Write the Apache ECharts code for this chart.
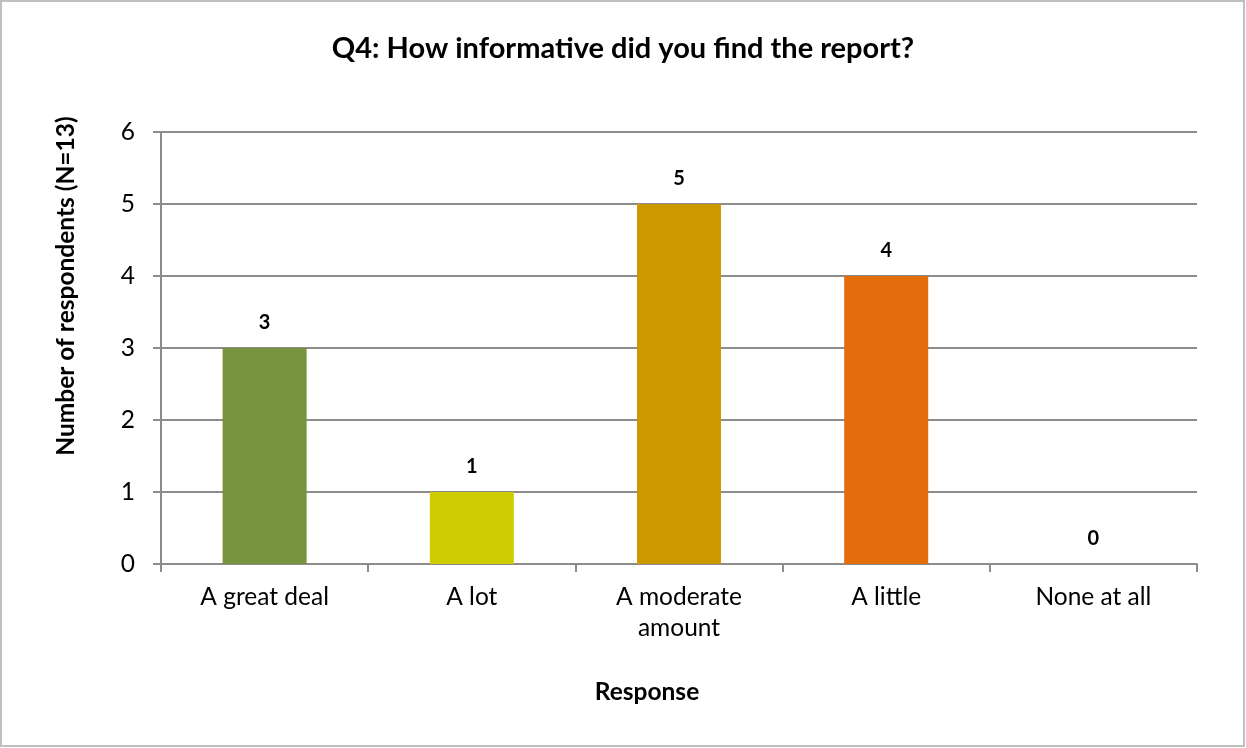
<!DOCTYPE html>
<html>
<head>
<meta charset="utf-8">
<script src="https://cdn.jsdelivr.net/npm/echarts@6/dist/echarts.min.js"></script>
<style>
  html, body { margin: 0; padding: 0; background: #ffffff; }
  #chart { width: 1246px; height: 748px; }
</style>
</head>
<body>
<div id="chart"></div>
<script>
// Survey responses for Q4
const categories = ['A great deal', 'A lot', 'A moderate\namount', 'A little', 'None at all'];
const counts = [3, 1, 5, 4, 0];
const barColors = ['#77933c', '#cccc00', '#cc9900', '#e46c0a', '#4f81bd'];
const yTicks = [0, 1, 2, 3, 4, 5, 6];

const titleText = 'Q4: How informative did you find the report?';
const xAxisTitle = 'Response';
const yAxisTitle = 'Number of respondents (N=13)';

const FONT = 'Lato, "Open Sans", sans-serif';
const chart = echarts.init(document.getElementById('chart'), null, { renderer: 'canvas' });

chart.setOption({
  backgroundColor: '#ffffff',
  animation: false,
  title: {
    text: titleText,
    left: 'center',
    top: 29,
    textStyle: { fontFamily: FONT, fontSize: 29, fontWeight: 'bold', color: '#000000' }
  },
  grid: { left: 161, right: 49, top: 132, bottom: 184, containLabel: false },
  xAxis: {
    type: 'category',
    data: categories,
    axisLine: { show: true, lineStyle: { color: '#8c8c8c', width: 2 } },
    axisTick: { show: true, length: 8, lineStyle: { color: '#8c8c8c', width: 2 } },
    axisLabel: { fontFamily: FONT, fontSize: 24.5, color: '#000000', margin: 18, lineHeight: 31 },
    splitLine: { show: false }
  },
  yAxis: {
    type: 'value',
    min: yTicks[0],
    max: yTicks[yTicks.length - 1],
    interval: 1,
    axisLine: { show: true, lineStyle: { color: '#8c8c8c', width: 2 } },
    axisTick: { show: true, length: 8, lineStyle: { color: '#8c8c8c', width: 2 } },
    axisLabel: { fontFamily: FONT, fontSize: 24.5, color: '#000000', margin: 26 },
    splitLine: { show: true, lineStyle: { color: '#8c8c8c', width: 2 } }
  },
  graphic: [
    {
      // outer chart border
      type: 'rect',
      shape: { x: 1, y: 1, width: 1243, height: 745 },
      style: { fill: 'none', stroke: '#bfbfbf', lineWidth: 2 },
      silent: true
    },
    {
      type: 'text',
      x: 66,
      y: 286,
      rotation: Math.PI / 2,
      style: {
        text: yAxisTitle,
        font: 'bold 24.5px ' + FONT,
        fill: '#000000',
        textAlign: 'center',
        textVerticalAlign: 'middle'
      }
    },
    {
      type: 'text',
      x: 647,
      y: 692,
      style: {
        text: xAxisTitle,
        font: 'bold 24.5px ' + FONT,
        fill: '#000000',
        textAlign: 'center',
        textVerticalAlign: 'middle'
      }
    }
  ],
  series: [{
    type: 'bar',
    barWidth: 84,
    data: counts.map((v, i) => ({ value: v, itemStyle: { color: barColors[i] } })),
    label: {
      show: true,
      position: 'top',
      distance: 15,
      fontFamily: FONT,
      fontSize: 20,
      fontWeight: 'bold',
      color: '#000000'
    }
  }]
});
</script>
</body>
</html>
